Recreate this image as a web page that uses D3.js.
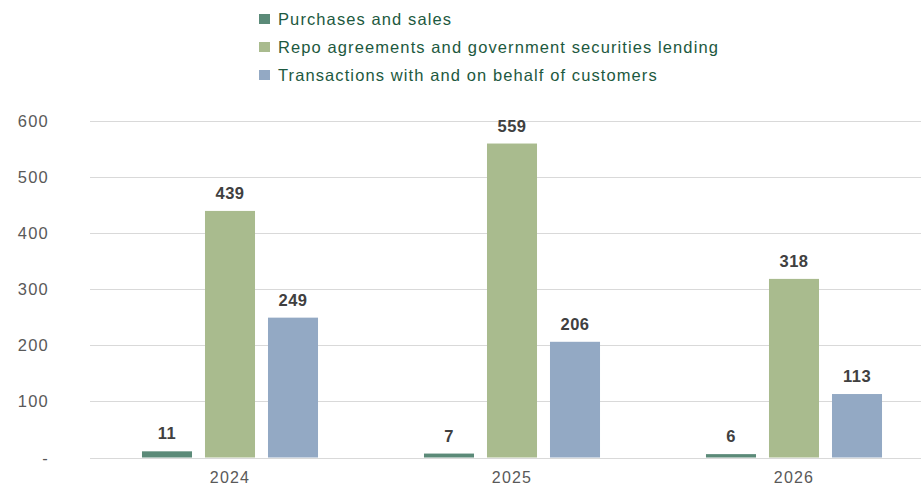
<!DOCTYPE html>
<html><head><meta charset="utf-8">
<script src="https://cdn.jsdelivr.net/npm/d3@7"></script>
<style>body{margin:0;background:#fff}svg{display:block}</style>
</head><body>
<svg id="c" width="921" height="486"></svg>
<script>
const categories = ["2024", "2025", "2026"];
const seriesNames = ["Purchases and sales", "Repo agreements and government securities lending", "Transactions with and on behalf of customers"];
const purchases = [11, 7, 6];
const repo = [439, 559, 318];
const transactions = [249, 206, 113];
const yTicks = [0, 100, 200, 300, 400, 500, 600];
const colors = ["#5b8a78", "#a9bb8e", "#93a9c4"];

const series = [purchases, repo, transactions];
const svg = d3.select("#c");
const font = "Arial, 'Liberation Sans', sans-serif";

const x = d3.scaleBand().domain(categories).range([89, 935]);
const inner = d3.scaleBand().domain(d3.range(3)).range([0, x.bandwidth()]).paddingInner(0.206).paddingOuter(0.841);
const y = d3.scaleLinear().domain([0, 600]).range([457.5, 120.5]);

// gridlines
svg.append("g").selectAll("line").data(yTicks).join("line")
  .attr("x1", 90).attr("x2", 921)
  .attr("y1", d => Math.round(y(d)) + 0.5).attr("y2", d => Math.round(y(d)) + 0.5)
  .attr("stroke", "#d9d9d9").attr("stroke-width", 1);

// y labels
svg.append("g").selectAll("text").data(yTicks).join("text")
  .attr("x", 49).attr("y", d => y(d) + 6)
  .attr("text-anchor", "end").attr("font-family", font).attr("font-size", 16.5)
  .attr("letter-spacing", 1.2)
  .attr("fill", "#595959").text(d => d === 0 ? "-" : d);

// bars
series.forEach((vals, i) => {
  const g = svg.append("g");
  g.selectAll("rect").data(vals).join("rect")
    .attr("x", (d, j) => x(categories[j]) + inner(i))
    .attr("width", inner.bandwidth())
    .attr("y", d => y(d))
    .attr("height", d => y(0) - y(d))
    .attr("fill", colors[i]);
  g.selectAll("text").data(vals).join("text")
    .attr("x", (d, j) => x(categories[j]) + inner(i) + inner.bandwidth() / 2)
    .attr("y", d => y(d) - 12)
    .attr("text-anchor", "middle").attr("font-family", font).attr("font-size", 16.5)
    .attr("letter-spacing", 0.5)
    .attr("font-weight", "bold").attr("fill", "#404040").text(d => d);
});

// x labels
svg.append("g").selectAll("text").data(categories).join("text")
  .attr("x", d => x(d) + x.bandwidth() / 2).attr("y", 483)
  .attr("text-anchor", "middle").attr("font-family", font).attr("font-size", 16)
  .attr("letter-spacing", 1.2)
  .attr("fill", "#595959").text(d => d);

// legend
const lg = svg.append("g").selectAll("g").data(seriesNames).join("g")
  .attr("transform", (d, i) => `translate(259, ${19 + i * 28})`);
lg.append("rect").attr("x", 0).attr("y", -5).attr("width", 11).attr("height", 10)
  .attr("fill", (d, i) => colors[i]);
lg.append("text").attr("x", 19).attr("y", 6)
  .attr("font-family", font).attr("font-size", 16.5).attr("letter-spacing", 1.1)
  .attr("fill", "#1d5940").text(d => d);
</script>
</body></html>
